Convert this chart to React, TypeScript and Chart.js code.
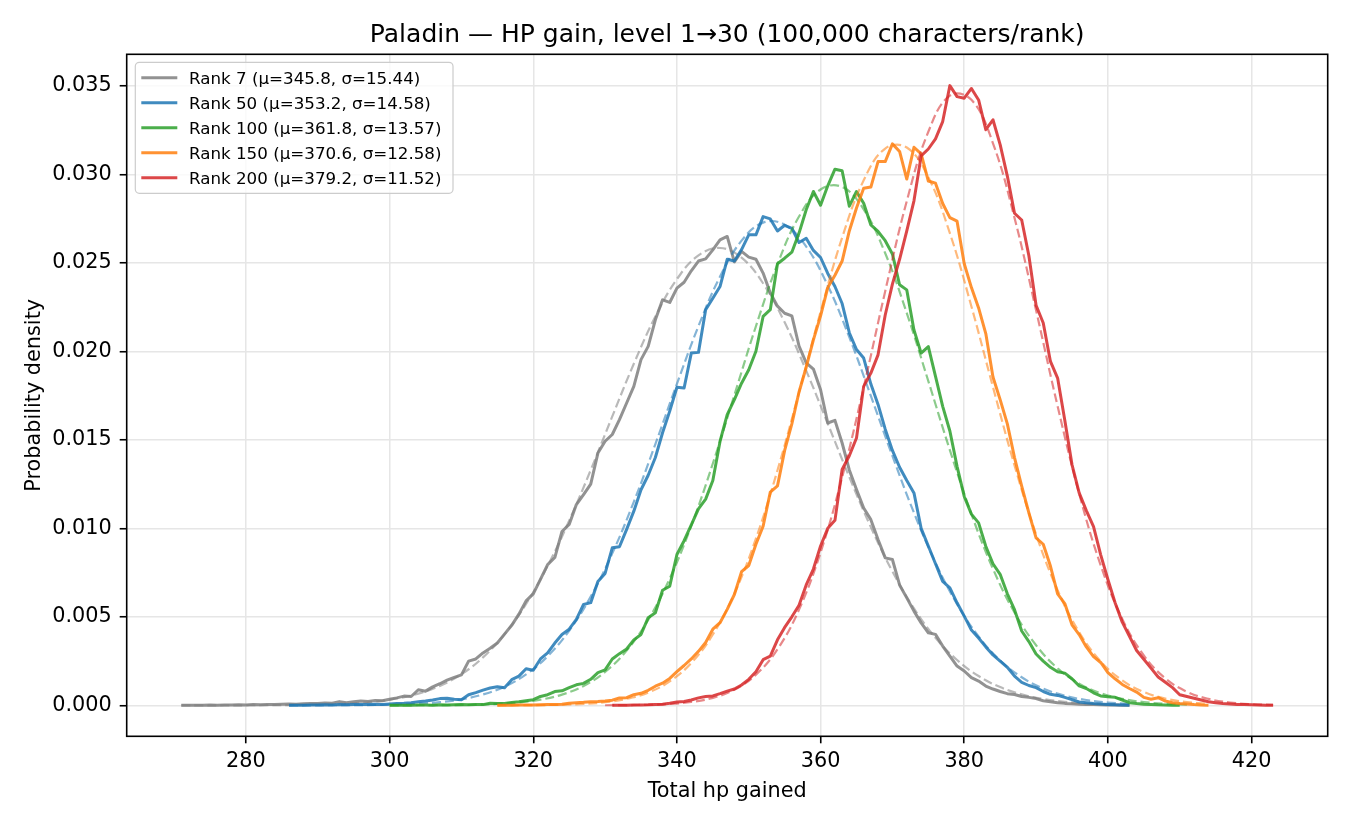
import React, { useEffect, useRef } from "react";
import { Chart, registerables } from "chart.js";

Chart.register(...registerables);

// ---------- text ----------
const TITLE = "Paladin — HP gain, level 1→30 (100,000 characters/rank)";
const X_LABEL = "Total hp gained";
const Y_LABEL = "Probability density";
const X_TICKS = [280, 300, 320, 340, 360, 380, 400, 420];
const Y_TICKS = [0, 0.005, 0.01, 0.015, 0.02, 0.025, 0.03, 0.035];
const RANK_LABELS = [
  "Rank 7 (μ=345.8, σ=15.44)",
  "Rank 50 (μ=353.2, σ=14.58)",
  "Rank 100 (μ=361.8, σ=13.57)",
  "Rank 150 (μ=370.6, σ=12.58)",
  "Rank 200 (μ=379.2, σ=11.52)",
];
const RANK_COLORS = ["#7f7f7f", "#1f77b4", "#2ca02c", "#ff7f0e", "#d62728"];

// ---------- simulated densities (one value per hp) ----------
const RANK7_START = 271;
const RANK7 = [
  0.00001, 0.00001, 0.00001, 0.00001, 0.00002, 0.00001, 0.00002, 0.00002, 0.00003, 0.00002,
  0.00004, 0.00003, 0.00005, 0.00004, 0.00006, 0.00008, 0.00006, 0.00009, 0.00011, 0.0001,
  0.00013, 0.00012, 0.00021, 0.00014, 0.0002, 0.00024, 0.00022, 0.00027, 0.00026, 0.00034,
  0.00042, 0.00052, 0.0005, 0.00088, 0.0008, 0.00104, 0.00122, 0.00142, 0.00158, 0.00172,
  0.0025, 0.00262, 0.00296, 0.00322, 0.00352, 0.00402, 0.00452, 0.00515, 0.0059, 0.0063,
  0.00712, 0.00795, 0.00835, 0.00982, 0.01022, 0.01134, 0.0119, 0.0125, 0.01425, 0.01492,
  0.0153, 0.01614, 0.01708, 0.01802, 0.01953, 0.02028, 0.02178, 0.02291, 0.02276, 0.02357,
  0.0239, 0.02455, 0.0251, 0.02522, 0.02573, 0.0263, 0.02649, 0.02505, 0.02565, 0.02532,
  0.0252, 0.02442, 0.0233, 0.02255, 0.02215, 0.022, 0.0203, 0.01935, 0.019, 0.01783,
  0.01595, 0.0161, 0.01482, 0.0133, 0.01219, 0.01115, 0.01049, 0.00937, 0.00833, 0.00824,
  0.0068, 0.00607, 0.00532, 0.00466, 0.0041, 0.00401, 0.00335, 0.00278, 0.00222, 0.00194,
  0.00156, 0.00137, 0.00109, 0.00092, 0.00078, 0.00066, 0.00061, 0.0005, 0.00045, 0.00038,
  0.00026, 0.0002, 0.00015, 0.00011, 0.00009, 0.00006, 0.00005, 0.00004, 0.00003, 0.00002,
  0.00002, 0.00001, 0.00001,
];

const RANK50_START = 286;
const RANK50 = [
  0.00001, 0.00001, 0.00001, 0.00002, 0.00002,
  0.00003, 0.00002, 0.00004, 0.00003, 0.00004, 0.00005, 0.00004, 0.00006, 0.00005, 0.00008,
  0.0001, 0.00012, 0.00015, 0.0002, 0.00024, 0.0003, 0.00038, 0.0004, 0.00034, 0.00032,
  0.0006, 0.00072, 0.00086, 0.00098, 0.00105, 0.00099, 0.00145, 0.00165, 0.00207, 0.00198,
  0.00262, 0.00296, 0.00352, 0.004, 0.0043, 0.00485, 0.0057, 0.0058, 0.007, 0.00745,
  0.0089, 0.00896, 0.00994, 0.01097, 0.01218, 0.013, 0.014, 0.0154, 0.01662, 0.01797,
  0.01793, 0.0199, 0.01994, 0.02235, 0.023, 0.02366, 0.0252, 0.0251, 0.02575, 0.02658,
  0.02658, 0.02761, 0.02748, 0.0268, 0.02712, 0.02695, 0.02615, 0.02639, 0.0257, 0.0253,
  0.0244, 0.02366, 0.0227, 0.02105, 0.0201, 0.01962, 0.01815, 0.017, 0.0156, 0.0144,
  0.01345, 0.0127, 0.012, 0.01, 0.009, 0.008, 0.007, 0.00664, 0.00579, 0.00504,
  0.00425, 0.0038, 0.0033, 0.00285, 0.0025, 0.00215, 0.00165, 0.0013, 0.00112, 0.001,
  0.00078, 0.00062, 0.00056, 0.00045, 0.00032, 0.00019, 0.00015, 0.0001, 0.00007, 0.00005,
  0.00003, 0.00002, 0.00001,
];

const RANK100_START = 300;
const RANK100 = [
  0.00001, 0.00001, 0.00001, 0.00001, 0.00002, 0.00002, 0.00001, 0.00003, 0.00002, 0.00003,
  0.00004, 0.00003, 0.00005, 0.00004, 0.00012, 0.0001, 0.0001, 0.00016, 0.0002, 0.00026,
  0.00032, 0.0005, 0.0006, 0.00078, 0.00082, 0.001, 0.00116, 0.00124, 0.00147, 0.00185,
  0.002, 0.00262, 0.00292, 0.00318, 0.0037, 0.004, 0.00495, 0.00523, 0.0065, 0.00673,
  0.00852, 0.0093, 0.0102, 0.0111, 0.01165, 0.0127, 0.01491, 0.01642, 0.01727, 0.0182,
  0.01896, 0.02, 0.02197, 0.02235, 0.02495, 0.02526, 0.0256, 0.02668, 0.028, 0.02903,
  0.02825, 0.02935, 0.03029, 0.0302, 0.0282, 0.02903, 0.02837, 0.02714, 0.02677, 0.02625,
  0.0255, 0.02376, 0.02347, 0.02121, 0.0199, 0.02027, 0.01858, 0.01689, 0.0155, 0.0135,
  0.0118, 0.0108, 0.01031, 0.00899, 0.008, 0.0074, 0.0063, 0.0054, 0.0042, 0.0036,
  0.0029, 0.0025, 0.00215, 0.0019, 0.00182, 0.0015, 0.0011, 0.00095, 0.00071, 0.00053,
  0.00048, 0.00045, 0.0003, 0.00015, 0.0001, 0.00006, 0.00005, 0.00003, 0.00002, 0.00001,
  0.00001,
];

const RANK150_START = 315;
const RANK150 = [
  0.00001, 0.00001, 0.00001, 0.00002, 0.00002, 0.00002, 0.00003, 0.00004, 0.00005, 0.00006,
  0.00012, 0.00015, 0.00017, 0.0002, 0.00022, 0.00025, 0.00029, 0.00042, 0.00043, 0.0006,
  0.00068, 0.00085, 0.00108, 0.00125, 0.00152, 0.0019, 0.00225, 0.00262, 0.00305, 0.00355,
  0.0043, 0.00467, 0.00542, 0.00626, 0.00755, 0.0079, 0.0091, 0.01012, 0.01205, 0.0124,
  0.0144, 0.0159, 0.0177, 0.0191, 0.02065, 0.022, 0.0236, 0.0243, 0.0251, 0.0268,
  0.0281, 0.02921, 0.02928, 0.03072, 0.03072, 0.03172, 0.03129, 0.02973, 0.03153, 0.03115,
  0.02962, 0.0295, 0.02835, 0.02755, 0.02735, 0.02495, 0.0236, 0.02245, 0.021, 0.01855,
  0.01727, 0.0159, 0.014, 0.01238, 0.01087, 0.00946, 0.0091, 0.00787, 0.0063, 0.00575,
  0.00455, 0.004, 0.0033, 0.00275, 0.00242, 0.00185, 0.0015, 0.00118, 0.00095, 0.00075,
  0.00045, 0.00034, 0.00043, 0.00024, 0.00015, 0.0001, 0.00007, 0.00004, 0.00002, 0.00001,
];

const RANK200_START = 331;
const RANK200 = [
  0.00001, 0.00001, 0.00001, 0.00002, 0.00002, 0.00003, 0.00005, 0.00006, 0.00012,
  0.00019, 0.00022, 0.0003, 0.00042, 0.0005, 0.00053, 0.00066, 0.0008, 0.00092, 0.00115,
  0.00147, 0.0019, 0.00258, 0.00278, 0.0037, 0.0044, 0.005, 0.00565, 0.0068, 0.0077,
  0.009, 0.01, 0.01045, 0.01332, 0.0141, 0.0151, 0.01802, 0.01877, 0.0198, 0.02205,
  0.0238, 0.0252, 0.0268, 0.0285, 0.03104, 0.03143, 0.032, 0.03298, 0.03501, 0.03439,
  0.0343, 0.03485, 0.0342, 0.03252, 0.03308, 0.03168, 0.0299, 0.0278, 0.02742, 0.0254,
  0.0226, 0.0216, 0.01943, 0.01849, 0.0161, 0.0136, 0.012, 0.011, 0.0101, 0.0085,
  0.00711, 0.0058, 0.0047, 0.0039, 0.0031, 0.0026, 0.0021, 0.0016, 0.0013, 0.001,
  0.0006, 0.0005, 0.0004, 0.0003, 0.0002, 0.00015, 0.0001, 0.00008, 0.00005, 0.00004,
  0.00003, 0.00002, 0.00001, 0.00001,
];

// ---------- normal fits (dashed), sampled every FIT_STEP hp ----------
const FIT_STEP = 3;
const RANK7_FIT_START = 271;
const RANK7_FIT = [
  0.0000002, 0.0000005, 0.0000013, 0.0000029, 0.0000066, 0.0000143, 0.0000298, 0.0000597, 0.000115, 0.000214,
  0.000384, 0.000662, 0.001099, 0.001757, 0.002706, 0.004013, 0.005729, 0.007876, 0.010428, 0.013294,
  0.016322, 0.019296, 0.021965, 0.024079, 0.025417, 0.025836, 0.02529, 0.023838, 0.021637, 0.018908,
  0.015916, 0.012899, 0.010067, 0.007565, 0.005475, 0.003816, 0.00256, 0.001654, 0.001029, 0.000617,
  0.000356, 0.000198, 0.000106, 0.000054, 0.000027,
];
const RANK50_FIT_START = 286;
const RANK50_FIT = [
  0.0000007, 0.0000017, 0.0000041, 0.0000095, 0.0000211, 0.000045, 0.0000921, 0.000181, 0.000339, 0.000612,
  0.001056, 0.001748, 0.002772, 0.004214, 0.006143, 0.008583, 0.011498, 0.014759, 0.018163, 0.021425,
  0.024221, 0.026251, 0.027269, 0.027154, 0.025917, 0.023715, 0.020798, 0.017482, 0.014088, 0.010882,
  0.008055, 0.005719, 0.003888, 0.002536, 0.001586, 0.000949, 0.000545, 0.0003, 0.000158, 0.00008,
];
const RANK100_FIT_START = 300;
const RANK100_FIT = [
  0.0000009, 0.0000025, 0.0000063, 0.0000152, 0.000035, 0.0000768, 0.000161, 0.00032, 0.000607, 0.001097,
  0.001888, 0.003093, 0.004825, 0.007166, 0.010139, 0.013661, 0.01753, 0.021417, 0.024921, 0.027616,
  0.02914, 0.029283, 0.028022, 0.025538, 0.022163, 0.018318, 0.014417, 0.010804, 0.007711, 0.005242,
  0.003393, 0.002091, 0.001228, 0.000686, 0.000365, 0.000185, 0.000089, 0.000041,
];
const RANK150_FIT_START = 315;
const RANK150_FIT = [
  0.0000018, 0.0000051, 0.0000134, 0.0000332, 0.0000781, 0.000174, 0.000365, 0.000722, 0.001352, 0.002393,
  0.003999, 0.006314, 0.009422, 0.013278, 0.017679, 0.022236, 0.026423, 0.02966, 0.031456, 0.031516,
  0.029832, 0.026673, 0.022535, 0.017981, 0.013557, 0.009656, 0.006498, 0.004129, 0.00248, 0.001407,
  0.000754, 0.000382, 0.000183, 0.000082,
];
const RANK200_FIT_START = 330;
const RANK200_FIT = [
  0.0000038, 0.0000111, 0.0000306, 0.0000786, 0.000188, 0.000422, 0.000885, 0.001731, 0.003165, 0.005409,
  0.008637, 0.012883, 0.017963, 0.0234, 0.028487, 0.032403, 0.034443, 0.034211, 0.031752, 0.027538,
  0.022316, 0.016899, 0.011958, 0.007906, 0.004883, 0.00282, 0.001522, 0.000767, 0.000361, 0.000159,
  0.000065, 0.000025,
];

const SERIES_STARTS = [RANK7_START, RANK50_START, RANK100_START, RANK150_START, RANK200_START];
const SERIES_VALUES = [RANK7, RANK50, RANK100, RANK150, RANK200];
const FIT_STARTS = [RANK7_FIT_START, RANK50_FIT_START, RANK100_FIT_START, RANK150_FIT_START, RANK200_FIT_START];
const FIT_VALUES = [RANK7_FIT, RANK50_FIT, RANK100_FIT, RANK150_FIT, RANK200_FIT];

// ---------- layout ----------
const W = 1350;
const H = 825;
const AREA = { left: 126.7, top: 54.3, right: 1327.7, bottom: 736.3 };
const FONT = "'DejaVu Sans', 'Liberation Sans', sans-serif";

function rgba(hex: string, a: number) {
  const n = parseInt(hex.slice(1), 16);
  return `rgba(${(n >> 16) & 255},${(n >> 8) & 255},${n & 255},${a})`;
}

export default function App() {
  const ref = useRef<HTMLCanvasElement | null>(null);

  useEffect(() => {
    document.body.style.margin = "0";
    const canvas = ref.current;
    if (!canvas) return;

    const datasets: any[] = [];
    SERIES_VALUES.forEach((vals, i) => {
      const start = SERIES_STARTS[i];
      datasets.push({
        label: RANK_LABELS[i],
        data: vals.map((y, k) => ({ x: start + k, y })),
        borderColor: rgba(RANK_COLORS[i], 0.85),
        borderWidth: 3,
        borderJoinStyle: "round",
        pointRadius: 0,
        tension: 0,
        fill: false,
        order: 100 - 2 * i,
      });
      const fs = FIT_STARTS[i];
      datasets.push({
        label: RANK_LABELS[i] + " fit",
        data: FIT_VALUES[i].map((y, k) => ({ x: fs + FIT_STEP * k, y })),
        borderColor: rgba(RANK_COLORS[i], 0.55),
        borderWidth: 2.2,
        borderDash: [9, 4],
        pointRadius: 0,
        tension: 0.4,
        fill: false,
        order: 99 - 2 * i,
      });
    });

    const overlay = {
      id: "overlay",
      afterDraw(chart: any) {
        const ctx = chart.ctx as CanvasRenderingContext2D;
        const a = chart.chartArea;
        ctx.save();
        // axes frame
        ctx.strokeStyle = "#000";
        ctx.lineWidth = 1.6;
        ctx.strokeRect(a.left, a.top, a.right - a.left, a.bottom - a.top);

        // title
        const cx = (a.left + a.right) / 2;
        ctx.fillStyle = "#000";
        ctx.textAlign = "center";
        ctx.textBaseline = "alphabetic";
        ctx.font = `25px ${FONT}`;
        ctx.fillText(TITLE, cx, 42.3);

        // axis labels
        ctx.font = `20.8px ${FONT}`;
        ctx.fillText(X_LABEL, cx, 797);
        ctx.save();
        ctx.translate(40, (a.top + a.bottom) / 2);
        ctx.rotate(-Math.PI / 2);
        ctx.fillText(Y_LABEL, 0, 0);
        ctx.restore();

        // legend
        const lx = 135.3, ly = 62.3, lw = 317.7, lh = 131, r = 4;
        ctx.beginPath();
        ctx.moveTo(lx + r, ly);
        ctx.lineTo(lx + lw - r, ly);
        ctx.arcTo(lx + lw, ly, lx + lw, ly + r, r);
        ctx.lineTo(lx + lw, ly + lh - r);
        ctx.arcTo(lx + lw, ly + lh, lx + lw - r, ly + lh, r);
        ctx.lineTo(lx + r, ly + lh);
        ctx.arcTo(lx, ly + lh, lx, ly + lh - r, r);
        ctx.lineTo(lx, ly + r);
        ctx.arcTo(lx, ly, lx + r, ly, r);
        ctx.closePath();
        ctx.fillStyle = "rgba(255,255,255,0.8)";
        ctx.fill();
        ctx.strokeStyle = "#cccccc";
        ctx.lineWidth = 1.2;
        ctx.stroke();

        ctx.font = `16.7px ${FONT}`;
        ctx.textAlign = "left";
        RANK_LABELS.forEach((lab, i) => {
          const y = 77.7 + 25 * i;
          ctx.strokeStyle = rgba(RANK_COLORS[i], 0.85);
          ctx.lineWidth = 3;
          ctx.beginPath();
          ctx.moveTo(141.3, y);
          ctx.lineTo(177.3, y);
          ctx.stroke();
          ctx.fillStyle = "#000";
          ctx.fillText(lab, 189, y + 6.1);
        });
        ctx.restore();
      },
    };

    const chart = new Chart(canvas, {
      type: "line",
      data: { datasets },
      options: {
        responsive: false,
        maintainAspectRatio: false,
        animation: false,
        devicePixelRatio: 1,
        events: [],
        layout: { padding: { left: 0, right: W - AREA.right, top: AREA.top, bottom: 0 } },
        plugins: {
          legend: { display: false },
          title: { display: false },
          tooltip: { enabled: false },
        },
        scales: {
          x: {
            type: "linear",
            min: 263.4,
            max: 430.6,
            afterFit: (s: any) => {
              s.height = H - AREA.bottom;
            },
            afterBuildTicks: (s: any) => {
              s.ticks = X_TICKS.map((v) => ({ value: v }));
            },
            ticks: {
              color: "#000",
              font: { family: FONT, size: 20.8 },
              padding: 6,
              maxRotation: 0,
              autoSkip: false,
              callback: (v: any) => String(v),
            },
            grid: {
              color: "#e6e6e6",
              lineWidth: 1.5,
              tickColor: "#000",
              tickLength: 7,
              tickWidth: 1.6,
            },
            border: { display: false },
          },
          y: {
            type: "linear",
            min: -0.00175,
            max: 0.03678,
            afterFit: (s: any) => {
              s.width = AREA.left;
            },
            afterBuildTicks: (s: any) => {
              s.ticks = Y_TICKS.map((v) => ({ value: v }));
            },
            ticks: {
              color: "#000",
              font: { family: FONT, size: 20.8 },
              padding: 8,
              autoSkip: false,
              callback: (v: any) => Number(v).toFixed(3),
            },
            grid: {
              color: "#e6e6e6",
              lineWidth: 1.5,
              tickColor: "#000",
              tickLength: 7,
              tickWidth: 1.6,
            },
            border: { display: false },
          },
        },
      },
      plugins: [overlay],
    } as any);

    return () => chart.destroy();
  }, []);

  return (
    <canvas
      ref={ref}
      width={W}
      height={H}
      style={{ display: "block", width: W, height: H }}
    />
  );
}
